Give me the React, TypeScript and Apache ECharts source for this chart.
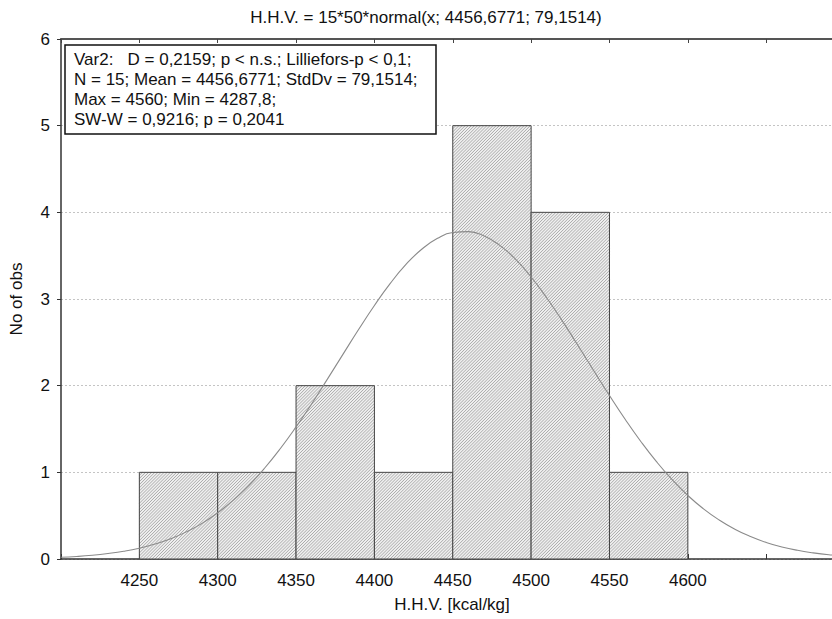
import React, { useEffect, useRef } from "react";
import * as echarts from "echarts";

const titleText = "H.H.V. = 15*50*normal(x; 4456,6771; 79,1514)";
const statLines = [
  "Var2:   D = 0,2159; p < n.s.; Lilliefors-p < 0,1;",
  "N = 15; Mean = 4456,6771; StdDv = 79,1514;",
  "Max = 4560; Min = 4287,8;",
  "SW-W = 0,9216; p = 0,2041",
];
const xName = "H.H.V. [kcal/kg]";
const yName = "No of obs";

const binStarts = [4250, 4300, 4350, 4400, 4450, 4500, 4550];
const binEnds = [4300, 4350, 4400, 4450, 4500, 4550, 4600];
const binCounts = [1, 1, 2, 1, 5, 4, 1];

const xTickLabels = [4250, 4300, 4350, 4400, 4450, 4500, 4550, 4600];

const curveX = [
  4200, 4210, 4220, 4230, 4240, 4250, 4260, 4270, 4280, 4290, 4300, 4310, 4320,
  4330, 4340, 4350, 4360, 4370, 4380, 4390, 4400, 4410, 4420, 4430, 4440, 4450,
  4460, 4470, 4480, 4490, 4500, 4510, 4520, 4530, 4540, 4550, 4560, 4570, 4580,
  4590, 4600, 4610, 4620, 4630, 4640, 4650, 4660, 4670, 4680, 4690, 4700,
];
const curveY = [
  0.02, 0.029, 0.043, 0.063, 0.089, 0.125, 0.173, 0.234, 0.313, 0.411, 0.533,
  0.679, 0.851, 1.05, 1.275, 1.524, 1.792, 2.075, 2.364, 2.651, 2.925, 3.177,
  3.396, 3.571, 3.697, 3.767, 3.777, 3.727, 3.619, 3.459, 3.254, 3.012, 2.745,
  2.461, 2.172, 1.886, 1.612, 1.356, 1.123, 0.915, 0.733, 0.579, 0.45, 0.344,
  0.259, 0.191, 0.139, 0.1, 0.071, 0.049, 0.034,
];

const FONT = "'Liberation Sans', Arial, sans-serif";

export default function App() {
  const ref = useRef<HTMLDivElement>(null);
  useEffect(() => {
    if (!ref.current) return;
    const chart = echarts.init(ref.current, undefined, { renderer: "svg" });

    const barData = binStarts.map((s, i) => [s, binEnds[i], binCounts[i]]);
    const curveData = curveX.map((x, i) => [x, curveY[i]]);

    const renderBar = (params: any, api: any) => {
      const x0v = api.value(0);
      const x1v = api.value(1);
      const yv = api.value(2);
      const pTop = api.coord([x0v, yv]);
      const pBot = api.coord([x1v, 0]);
      const x0 = pTop[0];
      const y0 = pTop[1];
      const x1 = pBot[0];
      const y1 = pBot[1];
      const children: any[] = [
        {
          type: "rect",
          shape: { x: x0, y: y0, width: x1 - x0, height: y1 - y0 },
          style: { fill: "#efefef", stroke: "none" },
        },
      ];
      const step = 3.1;
      for (let c = x0 + y0 + step; c < x1 + y1; c += step) {
        const xs = Math.max(x0, c - y1);
        const xe = Math.min(x1, c - y0);
        if (xe > xs) {
          children.push({
            type: "line",
            shape: { x1: xs, y1: c - xs, x2: xe, y2: c - xe },
            style: { stroke: "#999999", lineWidth: 0.8 },
          });
        }
      }
      children.push({
        type: "rect",
        shape: { x: x0, y: y0, width: x1 - x0, height: y1 - y0 },
        style: { fill: "none", stroke: "#444444", lineWidth: 1 },
      });
      return { type: "group", children };
    };

    const option: any = {
      animation: false,
      backgroundColor: "#ffffff",
      textStyle: { fontFamily: FONT },
      grid: { left: 59, right: 0, top: 39, bottom: 60, containLabel: false },
      xAxis: [
        {
          type: "value",
          min: 4200,
          max: 4692,
          interval: 50,
          position: "bottom",
          axisLine: { show: true, lineStyle: { color: "#333", width: 1.5 } },
          axisTick: { show: true, inside: true, length: 5, lineStyle: { color: "#333" } },
          axisLabel: {
            show: true,
            margin: 13,
            fontSize: 17,
            color: "#111",
            fontFamily: FONT,
            showMaxLabel: false,
            formatter: (v: number) => (xTickLabels.indexOf(v) >= 0 ? String(v) : ""),
          },
          splitLine: { show: false },
        },
        {
          type: "value",
          min: 4200,
          max: 4692,
          interval: 50,
          position: "top",
          axisLine: { show: true, onZero: false, lineStyle: { color: "#555", width: 2 } },
          axisTick: { show: true, inside: true, length: 4, lineStyle: { color: "#444" } },
          axisLabel: { show: false },
          splitLine: { show: false },
        },
      ],
      yAxis: {
        type: "value",
        min: 0,
        max: 6,
        interval: 1,
        name: yName,
        nameLocation: "middle",
        nameRotate: 90,
        nameGap: 36,
        nameTextStyle: { fontSize: 17, color: "#111", fontFamily: FONT },
        axisLine: { show: true, lineStyle: { color: "#333", width: 1.5 } },
        axisTick: { show: true, inside: false, length: 4, lineStyle: { color: "#333" } },
        axisLabel: { margin: 11, fontSize: 17, color: "#111", fontFamily: FONT },
        splitLine: { show: true, lineStyle: { color: "#c4c4c4", type: [2, 2], width: 1 } },
      },
      series: [
        {
          type: "custom",
          xAxisIndex: 0,
          renderItem: renderBar,
          data: barData,
          encode: { x: [0, 1], y: 2 },
          z: 2,
        },
        {
          type: "line",
          xAxisIndex: 0,
          data: curveData,
          smooth: true,
          symbol: "none",
          lineStyle: { color: "#8a8a8a", width: 1.1 },
          z: 3,
        },
      ],
      graphic: [
        {
          type: "text",
          x: 426,
          y: 9,
          style: {
            text: titleText,
            fontSize: 17,
            fill: "#111",
            fontFamily: FONT,
            align: "center",
          },
          z: 10,
        },
        {
          type: "rect",
          shape: { x: 65, y: 45, width: 371, height: 89 },
          style: { fill: "#fff", stroke: "#111", lineWidth: 1.5 },
          z: 10,
        },
        {
          type: "text",
          x: 74,
          y: 49,
          style: {
            text: statLines.join("\n"),
            fontSize: 17,
            lineHeight: 20,
            fill: "#111",
            fontFamily: FONT,
          },
          z: 11,
        },
        {
          type: "text",
          x: 452,
          y: 596,
          style: {
            text: xName,
            fontSize: 17,
            fill: "#111",
            fontFamily: FONT,
            align: "center",
          },
          z: 10,
        },
      ],
    };
    chart.setOption(option);
    return () => chart.dispose();
  }, []);
  return (
    <div
      ref={ref}
      style={{ position: "absolute", left: 0, top: 0, width: 832, height: 619 }}
    />
  );
}
